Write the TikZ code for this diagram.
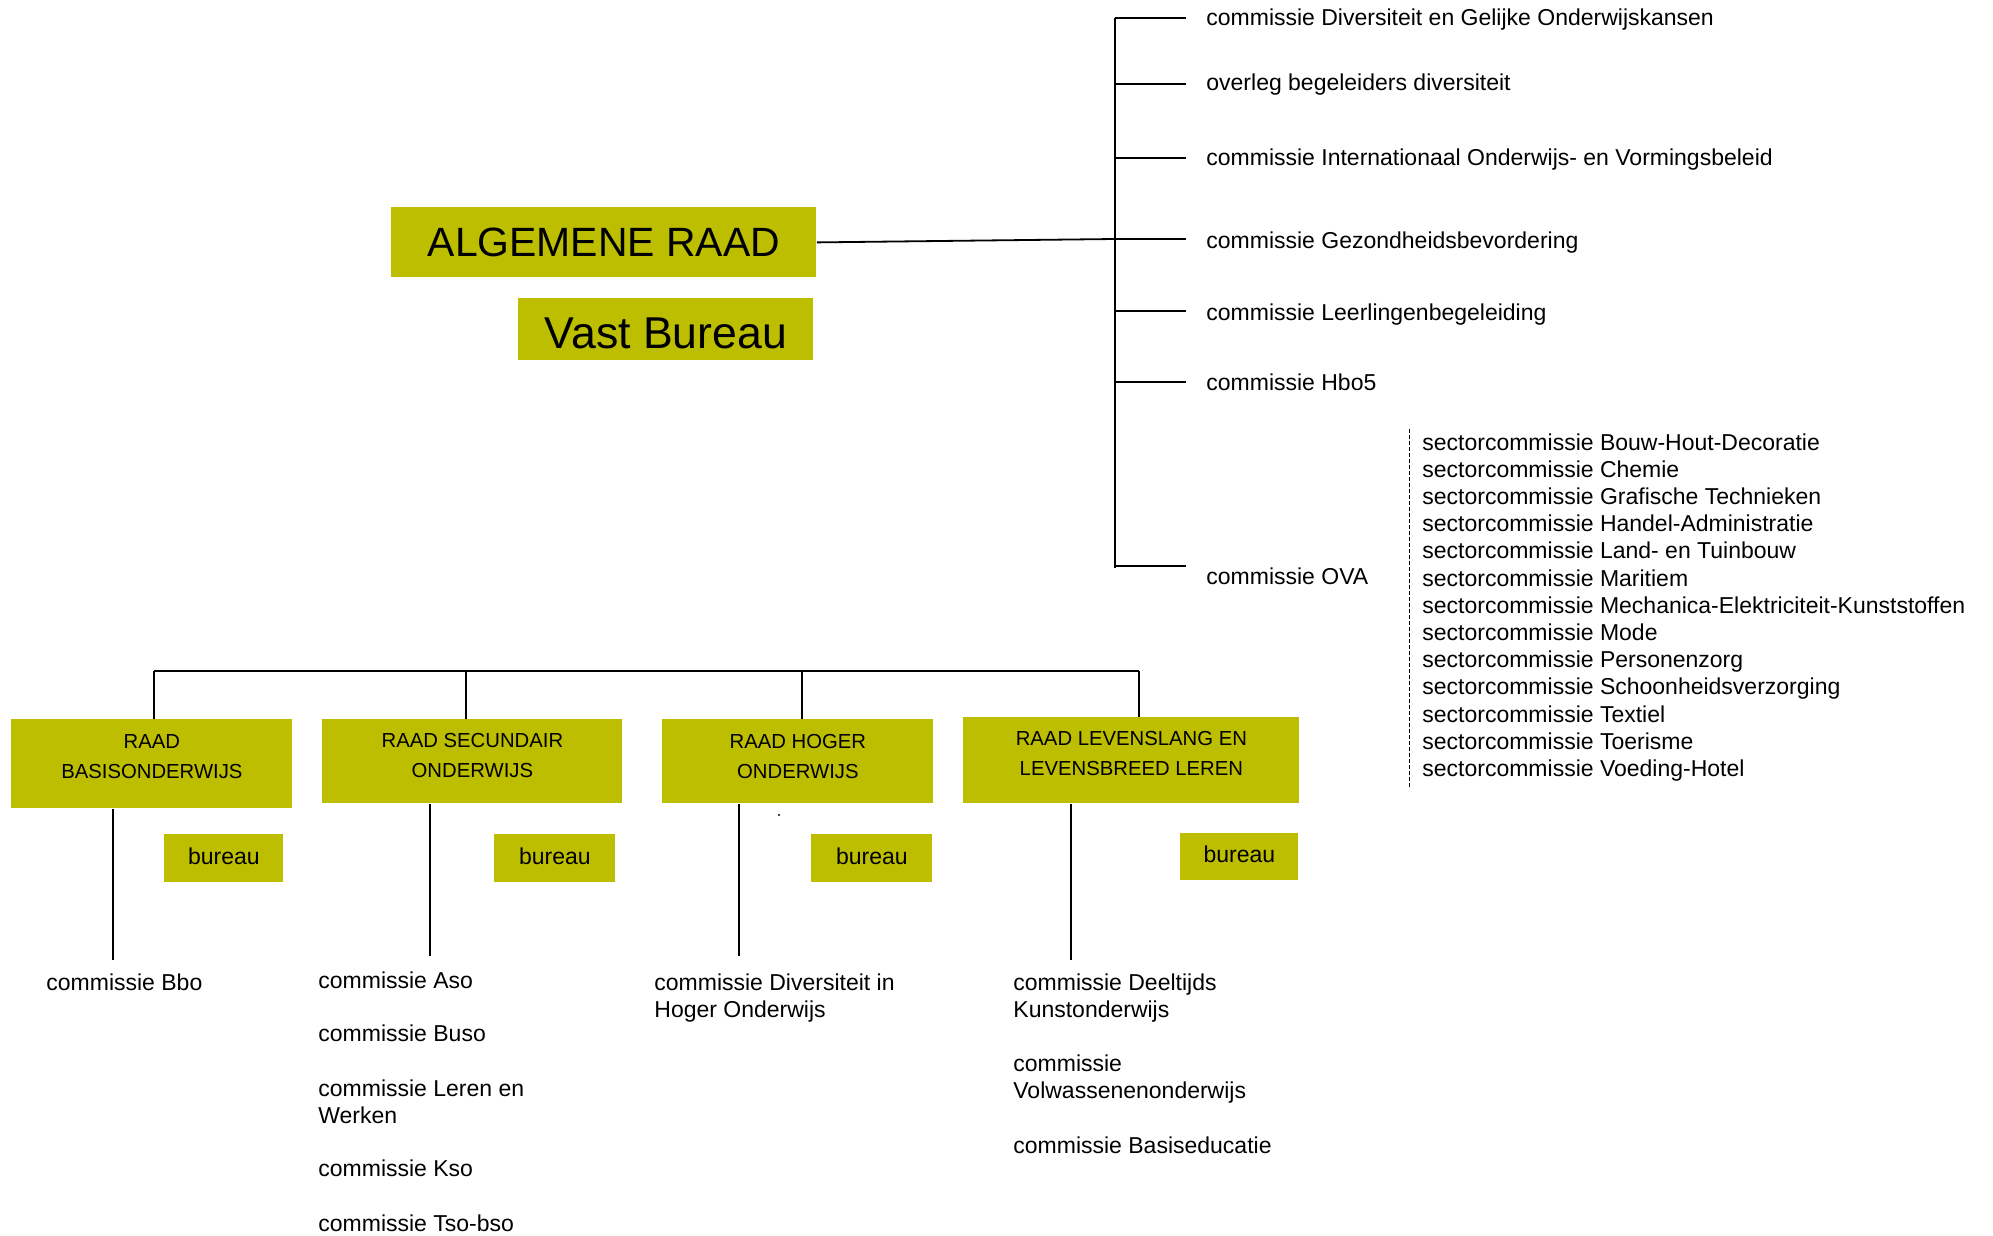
\documentclass[tikz,border=0pt]{standalone}
\usepackage{fontspec}
\setmainfont{Liberation Sans}
\definecolor{olivebox}{RGB}{189,190,0}
\begin{document}
\begin{tikzpicture}[x=0.5pt,y=-0.5pt,
  box/.style={fill=olivebox, inner sep=0pt, anchor=north west, align=center},
  raadtxt/.style={font=\fontsize{10.15}{15}\selectfont},
  burtxt/.style={font=\fontsize{11.5}{13.5}\selectfont},
  lab/.style={anchor=base west, inner sep=0pt, font=\fontsize{11.5}{13.5}\selectfont},
  mlab/.style={anchor=north west, inner sep=0pt, align=left, font=\fontsize{11.5}{13.5}\selectfont},
  conn/.style={line width=0.9pt},
]
\useasboundingbox (0,0) rectangle (1993,1236);

% top boxes
\node[box, minimum width=212.5pt, minimum height=35pt, font=\fontsize{20.45}{24}\selectfont] (ar) at (391,207) {ALGEMENE RAAD};
\node[box, minimum width=147.5pt, minimum height=31pt, font=\fontsize{22.3}{26}\selectfont] (vb) at (518,298) {\rule{0pt}{19pt}Vast Bureau};

% right tree
\coordinate (vtop) at (1115,18);
\coordinate (vbot) at (1115,568);
\coordinate (hub) at (1115,239);
\coordinate (e1) at (1186,18);
\coordinate (e2) at (1186,84);
\coordinate (e3) at (1186,158);
\coordinate (e4) at (1186,239);
\coordinate (e5) at (1186,311);
\coordinate (e6) at (1186,382);
\coordinate (e7) at (1186,566);

\node[lab] (l1) at (1206,25.5) {commissie Diversiteit en Gelijke Onderwijskansen};
\node[lab] (l2) at (1206,90.5) {overleg begeleiders diversiteit};
\node[lab] (l3) at (1206,165.5) {commissie Internationaal Onderwijs- en Vormingsbeleid};
\node[lab] (l4) at (1206,248.5) {commissie Gezondheidsbevordering};
\node[lab] (l5) at (1206,320.5) {commissie Leerlingenbegeleiding};
\node[lab] (l6) at (1206,390.5) {commissie Hbo5};
\node[lab] (l7) at (1206,584.5) {commissie OVA};

\draw[conn] (ar.east) -- (hub);
\draw[conn] (vtop) -- (vbot);
\foreach \i in {1,...,7} {\draw[conn] (e\i -| vtop) -- (e\i);}

% sector list
\coordinate (dtop) at (1409,429);
\coordinate (dbot) at (1409,788);
\draw[line width=0.5pt, dash pattern=on 2pt off 1pt] (dtop) -- (dbot);
\node[anchor=north west, inner sep=0pt, align=left, font=\fontsize{11.5}{13.6}\selectfont] (sec) at (1422,433) {sectorcommissie Bouw-Hout-Decoratie\\
sectorcommissie Chemie\\
sectorcommissie Grafische Technieken\\
sectorcommissie Handel-Administratie\\
sectorcommissie Land- en Tuinbouw\\
sectorcommissie Maritiem\\
sectorcommissie Mechanica-Elektriciteit-Kunststoffen\\
sectorcommissie Mode\\
sectorcommissie Personenzorg\\
sectorcommissie Schoonheidsverzorging\\
sectorcommissie Textiel\\
sectorcommissie Toerisme\\
sectorcommissie Voeding-Hotel};

% bottom councils
\node[box, raadtxt, minimum width=140.5pt, minimum height=44.5pt] (r1) at (11,719) {RAAD\\BASISONDERWIJS\rule[-7.3pt]{0pt}{0pt}};
\node[box, raadtxt, minimum width=150pt, minimum height=42pt] (r2) at (322,719) {RAAD SECUNDAIR\\ONDERWIJS\rule[-5.5pt]{0pt}{0pt}};
\node[box, raadtxt, minimum width=135.5pt, minimum height=42pt] (r3) at (662,719) {RAAD HOGER\\ONDERWIJS\rule[-5.2pt]{0pt}{0pt}};
\node[box, raadtxt, minimum width=168pt, minimum height=43pt] (r4) at (963,717) {RAAD LEVENSLANG EN\\LEVENSBREED LEREN\rule[-6.7pt]{0pt}{0pt}};

\node[box, burtxt, minimum width=59.5pt, minimum height=24pt] (bu1) at (164,834) {bureau\rule[-2.5pt]{0pt}{0pt}};
\node[box, burtxt, minimum width=60.5pt, minimum height=24pt] (bu2) at (494,834) {bureau\rule[-2.5pt]{0pt}{0pt}};
\node[box, burtxt, minimum width=60.5pt, minimum height=24pt] (bu3) at (811,834) {bureau\rule[-2.5pt]{0pt}{0pt}};
\node[box, burtxt, minimum width=59pt, minimum height=23.5pt] (bu4) at (1180,833) {bureau\rule[-2.5pt]{0pt}{0pt}};

\coordinate (d1) at (154,671);
\coordinate (d2) at (466,671);
\coordinate (d3) at (802,671);
\coordinate (d4) at (1139,671);
\draw[conn] (d1) -- (d4);
\draw[conn] (d1) -- (d1 |- r1.north);
\draw[conn] (d2) -- (d2 |- r2.north);
\draw[conn] (d3) -- (d3 |- r3.north);
\draw[conn] (d4) -- (d4 |- r4.north);

\coordinate (c1) at (113,960);
\coordinate (c2) at (430,956);
\coordinate (c3) at (739,956);
\coordinate (c4) at (1071,960);
\draw[conn] (c1 |- r1.south) -- (c1);
\draw[conn] (c2 |- r2.south) -- (c2);
\draw[conn] (c3 |- r3.south) -- (c3);
\draw[conn] (c4 |- r4.south) -- (c4);

\fill (779,815) circle[radius=0.6pt];

% bottom labels
\node[lab] (bbo) at (46,990) {commissie Bbo};
\node[lab] (aso) at (318,988) {commissie Aso};
\node[lab] (buso) at (318,1041) {commissie Buso};
\node[mlab] (lw) at (318,1079.5) {commissie Leren en\\Werken};
\node[lab] (kso) at (318,1176) {commissie Kso};
\node[lab] (tso) at (318,1231.5) {commissie Tso-bso};
\node[mlab] (dho) at (654,973.5) {commissie Diversiteit in\\Hoger Onderwijs};
\node[mlab] (dko) at (1013,973.5) {commissie Deeltijds\\Kunstonderwijs};
\node[mlab] (vwo) at (1013,1054.5) {commissie\\Volwassenenonderwijs};
\node[lab] (be) at (1013,1153) {commissie Basiseducatie};
\end{tikzpicture}
\end{document}
